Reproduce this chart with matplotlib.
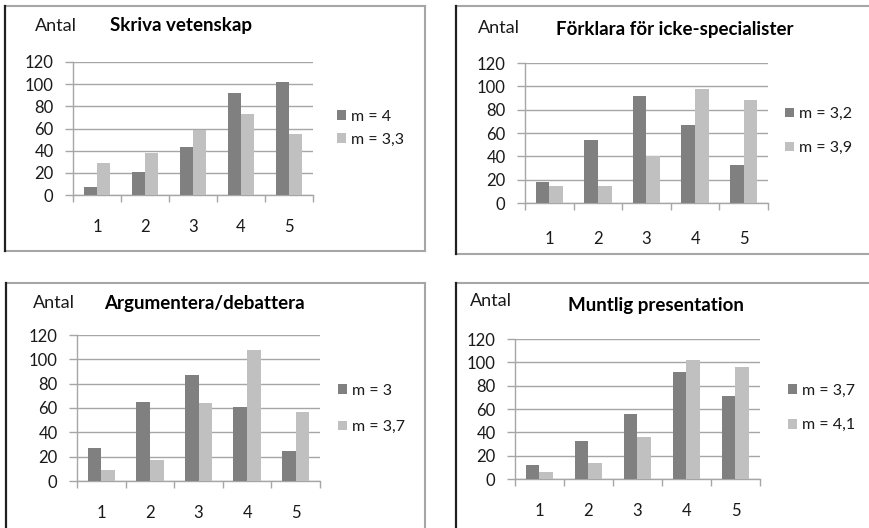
import matplotlib
matplotlib.use("Agg")
import matplotlib.pyplot as plt
from matplotlib.lines import Line2D

plt.rcParams['font.family'] = ['Lato', 'DejaVu Sans']

categories = ["1", "2", "3", "4", "5"]
y_ticks = [0, 20, 40, 60, 80, 100, 120]

titles = ["Skriva vetenskap", "Förklara för icke-specialister",
          "Argumentera/debattera", "Muntlig presentation"]

dark_1 = [7, 21, 43, 92, 102]
light_1 = [29, 38, 59, 73, 55]
labels_1 = ["m = 4", "m = 3,3"]

dark_2 = [18, 54, 92, 67, 33]
light_2 = [15, 15, 40, 98, 88]
labels_2 = ["m = 3,2", "m = 3,9"]

dark_3 = [27, 65, 87, 61, 25]
light_3 = [9, 17, 64, 108, 57]
labels_3 = ["m = 3", "m = 3,7"]

dark_4 = [12, 33, 56, 92, 71]
light_4 = [6, 14, 36, 102, 96]
labels_4 = ["m = 3,7", "m = 4,1"]

W, H = 870, 528
fig = plt.figure(figsize=(W / 100, H / 100), dpi=100)
fig.patch.set_facecolor("white")

DARK = "#808080"
LIGHT = "#c0c0c0"
GRID = "#a6a6a6"
TXT = "#1a1a1a"

def fx(px):
    return px / W

def fy(py):
    return 1 - py / H

panels = [
    dict(dark=dark_1, light=light_1, labels=labels_1, title=titles[0],
         ax=(73, 313, 62, 195), antal=(35, 26), tpos=(181, 26),
         leg=(337, 128), lsp=0.55, xlab_pad=17,
         border=(5.5, 5.5, 425, 251)),
    dict(dark=dark_2, light=light_2, labels=labels_2, title=titles[1],
         ax=(525, 768, 63, 203), antal=(478, 28), tpos=(675, 29),
         leg=(785, 131), lsp=1.25, xlab_pad=20,
         border=(456, 6, 900, 254)),
    dict(dark=dark_3, light=light_3, labels=labels_3, title=titles[2],
         ax=(77, 320, 335, 481), antal=(33, 303), tpos=(204, 303),
         leg=(338, 409), lsp=1.4, xlab_pad=17,
         border=(6, 283, 425, 600)),
    dict(dark=dark_4, light=light_4, labels=labels_4, title=titles[3],
         ax=(515, 760, 339, 479), antal=(470, 301), tpos=(656, 306),
         leg=(788, 408), lsp=1.3, xlab_pad=17,
         border=(456, 283, 900, 600)),
]

x = list(range(len(categories)))
bw = 0.28

for p in panels:
    x0, x1, yt, yb = p["ax"]
    ax = fig.add_axes([fx(x0), fy(yb), fx(x1 - x0), (yb - yt) / H])
    b1 = ax.bar([i - bw / 2 for i in x], p["dark"], width=bw, color=DARK, zorder=3)
    b2 = ax.bar([i + bw / 2 for i in x], p["light"], width=bw, color=LIGHT, zorder=3)
    ax.set_xlim(-0.5, len(categories) - 0.5)
    ax.set_ylim(0, 120)
    ax.set_yticks(y_ticks)
    ax.set_yticklabels([str(t) for t in y_ticks], fontsize=12, color=TXT)
    ax.yaxis.grid(True, color=GRID, linewidth=1.0, zorder=0)
    ax.set_xticks(x)
    ax.set_xticklabels(categories, fontsize=12, color=TXT)
    ax.set_xticks([i - 0.5 for i in range(len(categories) + 1)], minor=True)
    ax.tick_params(axis="x", which="major", length=0, pad=p["xlab_pad"])
    ax.tick_params(axis="x", which="minor", length=5, color=GRID, width=1.0, direction="out")
    ax.tick_params(axis="y", length=6, color=GRID, width=1.0, pad=8)
    for s in ["top", "right"]:
        ax.spines[s].set_visible(False)
    ax.spines["left"].set_color(GRID)
    ax.spines["bottom"].set_color(GRID)
    ax.spines["left"].set_linewidth(1.0)
    ax.spines["bottom"].set_linewidth(1.0)
    ax.set_facecolor("none")

    fig.text(fx(p["antal"][0]), fy(p["antal"][1]), "Antal", fontsize=13,
             ha="left", va="center", color=TXT)
    fig.text(fx(p["tpos"][0]), fy(p["tpos"][1]), p["title"], fontsize=13.5,
             fontweight="bold", ha="center", va="center", color="#000000")

    ax.legend([b1, b2], p["labels"], loc="center left",
              bbox_to_anchor=(fx(p["leg"][0]), fy(p["leg"][1])),
              bbox_transform=fig.transFigure, frameon=False, fontsize=11.5,
              handlelength=0.55, handleheight=0.55, handletextpad=0.35,
              borderpad=0, borderaxespad=0, labelspacing=p["lsp"],
              labelcolor=TXT)

    l, t, r, b = p["border"]
    fig.add_artist(Line2D([fx(l), fx(r)], [fy(t), fy(t)], color=GRID, lw=1.5))
    fig.add_artist(Line2D([fx(r), fx(r)], [fy(t), fy(b)], color=GRID, lw=1.5))
    fig.add_artist(Line2D([fx(l), fx(r)], [fy(b), fy(b)], color=GRID, lw=1.5))
    fig.add_artist(Line2D([fx(l), fx(l)], [fy(t), fy(b)], color="#202020", lw=1.6))

fig.savefig("out.png", dpi=100, facecolor="white")
